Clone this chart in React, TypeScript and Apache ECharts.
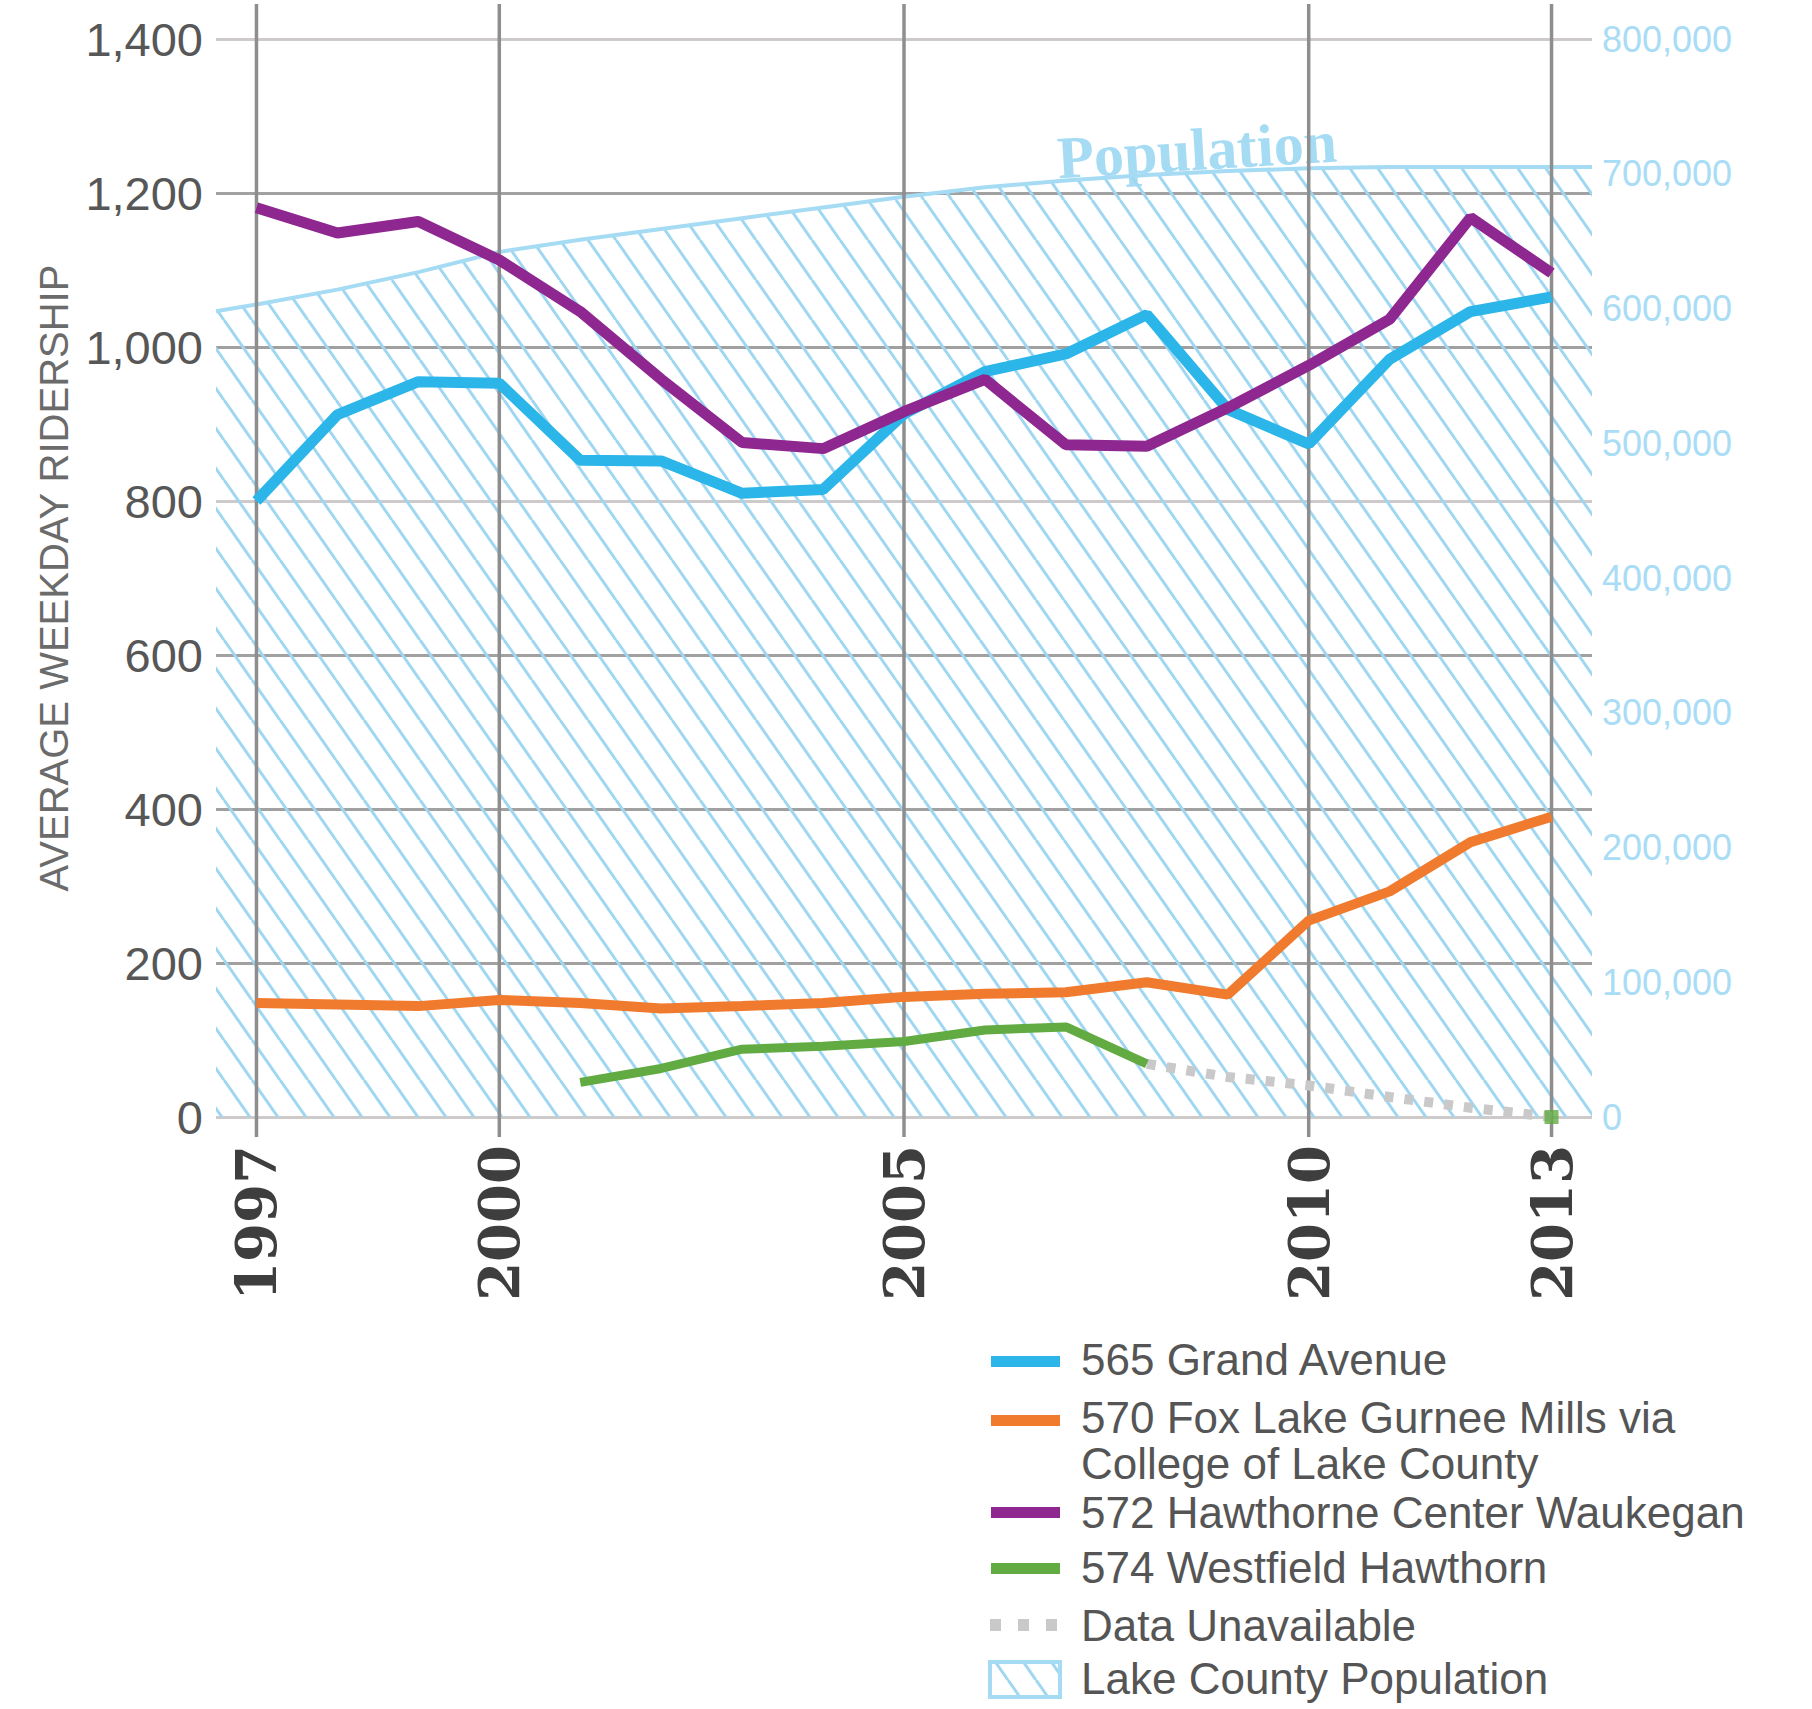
import React, { useEffect, useRef } from "react";
import * as echarts from "echarts";

// ---------- data ----------
const years = [1997, 1998, 1999, 2000, 2001, 2002, 2003, 2004, 2005, 2006, 2007, 2008, 2009, 2010, 2011, 2012, 2013];
const grandAvenue565 = [800, 912, 955, 953, 853, 852, 810, 815, 913, 968, 991, 1042, 919, 874, 984, 1046, 1065];
const foxLake570 = [148, 146, 144, 152, 148, 141, 144, 148, 156, 160, 162, 175, 159, 255, 293, 357, 390];
const hawthorne572 = [1181, 1148, 1163, 1113, 1046, 958, 876, 868, 916, 958, 873, 871, 921, 976, 1036, 1168, 1096];
const westfield574 = [null, null, null, null, 45, 63, 88, 92, 98, 113, 117, 69, null, null, null, null, null];
const dataUnavailable = [null, null, null, null, null, null, null, null, null, null, null, 69, 52, 41, 26, 12, 0];
const westfield574EndYear = 2013;
const westfield574EndValue = 0;

const populationYears = [1996.5, 1997, 1998, 1999, 2000, 2001, 2002, 2003, 2004, 2005, 2006, 2007, 2008, 2009, 2010, 2011, 2012, 2013, 2013.5];
const populationValues = [598000, 603000, 614000, 627000, 642000, 651000, 659000, 667000, 675000, 683000, 690000, 695000, 699000, 702000, 704000, 705000, 705000, 705000, 705000];

const xLabelYears = [1997, 2000, 2005, 2010, 2013];
const legendLabels = [
  "565 Grand Avenue",
  "570 Fox Lake Gurnee Mills via\nCollege of Lake County",
  "572 Hawthorne Center Waukegan",
  "574 Westfield Hawthorn",
  "Data Unavailable",
  "Lake County Population",
];

// ---------- styles ----------
const BLUE = "#2cb5e9";
const ORANGE = "#f07b2f";
const PURPLE = "#8e278f";
const GREEN = "#62ab43";
const GRAY_DOT = "#c9c9c9";
const POP_LINE = "#a6dbf4";
const HATCH = "#9fd7f2";
const SANS = "Liberation Sans, Arial, sans-serif";

function makeHatch(w: number, h: number) {
  const c = document.createElement("canvas");
  c.width = w;
  c.height = h;
  const ctx = c.getContext("2d")!;
  ctx.strokeStyle = HATCH;
  ctx.lineWidth = 3;
  for (let k = -1; k <= 1; k++) {
    ctx.beginPath();
    ctx.moveTo(k * w, 0);
    ctx.lineTo(k * w + w, h);
    ctx.stroke();
  }
  return { image: c.toDataURL(), repeat: "repeat", imageWidth: w, imageHeight: h };
}

const pair = (vals: (number | null)[]) => years.map((y, i) => [y, vals[i] == null ? null : vals[i]]);

export default function App() {
  const ref = useRef<HTMLDivElement>(null);

  useEffect(() => {
    document.body.style.margin = "0";
    if (!ref.current) return;
    const chart = echarts.init(ref.current, null, { renderer: "svg" });
    const hatch = makeHatch(28, 40);
    const hatchLegend = makeHatch(28, 40);

    const light = "#cecaca";
    const dark = "#a2a1a1";

    const legendGraphics: any[] = [];
    const swX = 991;
    const swW = 69;
    const txX = 1081;
    const txtStyle = { fontSize: 44, lineHeight: 46, fontFamily: SANS, fill: "#555555", verticalAlign: "middle", align: "left" };
    const rows = [
      { kind: "line", color: BLUE, y: 1361, ty: 1359 },
      { kind: "line", color: ORANGE, y: 1420, ty: 1440 },
      { kind: "line", color: PURPLE, y: 1512, ty: 1512 },
      { kind: "line", color: GREEN, y: 1568, ty: 1567 },
      { kind: "dots", color: GRAY_DOT, y: 1625, ty: 1625 },
      { kind: "hatch", color: POP_LINE, y: 1679, ty: 1678 },
    ];
    rows.forEach((r, i) => {
      if (r.kind === "line") {
        legendGraphics.push({ type: "rect", shape: { x: swX, y: r.y - 5, width: swW, height: 11 }, style: { fill: r.color } });
      } else if (r.kind === "dots") {
        [990, 1018, 1046].forEach((x) =>
          legendGraphics.push({ type: "rect", shape: { x, y: r.y - 6, width: 11, height: 12 }, style: { fill: r.color } })
        );
      } else {
        legendGraphics.push({
          type: "rect",
          shape: { x: 990, y: r.y - 17, width: 70, height: 35 },
          style: { fill: hatchLegend, stroke: r.color, lineWidth: 4 },
        });
      }
      legendGraphics.push({ type: "text", x: txX, y: r.ty, style: { ...txtStyle, text: legendLabels[i] } });
    });

    const option: any = {
      animation: false,
      backgroundColor: "#ffffff",
      textStyle: { fontFamily: SANS },
      grid: { left: 216, right: 220, top: 39, bottom: 592, containLabel: false },
      xAxis: {
        type: "value",
        min: 1996.5,
        max: 2013.5,
        axisLine: { show: false },
        axisTick: { show: false },
        splitLine: { show: false },
        axisLabel: {
          customValues: xLabelYears,
          rotate: 90,
          margin: 28,
          formatter: (v: number) => String(v),
          fontFamily: "DejaVu Serif",
          fontWeight: "bold",
          fontSize: 56,
          color: "#3e3e3e",
        },
      },
      yAxis: [
        {
          type: "value",
          min: 0,
          max: 1400,
          interval: 200,
          position: "left",
          name: "AVERAGE WEEKDAY RIDERSHIP",
          nameLocation: "middle",
          nameRotate: 90,
          nameGap: 142,
          nameTextStyle: { fontSize: 40, color: "#6b6b6b", fontFamily: SANS },
          axisLine: { show: false },
          axisTick: { show: false },
          axisLabel: { fontSize: 47, color: "#575757", margin: 13, fontFamily: SANS },
          splitLine: {
            show: true,
            lineStyle: { color: [light, dark, dark, dark, light, dark, dark, light], width: 3 },
          },
        },
        {
          type: "value",
          min: 0,
          max: 800000,
          interval: 100000,
          position: "right",
          axisLine: { show: false },
          axisTick: { show: false },
          splitLine: { show: false },
          axisLabel: { fontSize: 36, color: "#a9dcf5", margin: 10, fontFamily: SANS },
        },
      ],
      series: [
        {
          name: "Lake County Population",
          type: "line",
          yAxisIndex: 1,
          data: populationYears.map((y, i) => [y, populationValues[i]]),
          symbol: "none",
          lineStyle: { color: POP_LINE, width: 4 },
          areaStyle: { color: hatch, opacity: 1 },
          z: 1,
          silent: true,
        },
        {
          name: "year lines",
          type: "custom",
          data: xLabelYears.map((y) => [y, 0]),
          encode: { x: 0, y: 1 },
          clip: false,
          z: 2,
          silent: true,
          renderItem: (params: any, api: any) => {
            const top = api.coord([api.value(0), 1400]);
            const bottom = api.coord([api.value(0), 0]);
            return {
              type: "line",
              shape: { x1: top[0], y1: top[1] - 35, x2: bottom[0], y2: bottom[1] + 20 },
              style: { stroke: "#8e8e8e", lineWidth: 3.5 },
            };
          },
        },
        {
          name: "Data Unavailable",
          type: "line",
          data: pair(dataUnavailable),
          symbol: "none",
          lineStyle: { color: GRAY_DOT, width: 10, type: [9, 11], cap: "butt" },
          z: 3,
        },
        {
          name: "570 Fox Lake Gurnee Mills via College of Lake County",
          type: "line",
          data: pair(foxLake570),
          symbol: "none",
          lineStyle: { color: ORANGE, width: 10 },
          z: 4,
        },
        {
          name: "574 Westfield Hawthorn",
          type: "line",
          data: pair(westfield574),
          symbol: "none",
          lineStyle: { color: GREEN, width: 9 },
          z: 4,
        },
        {
          name: "574 Westfield Hawthorn end",
          type: "scatter",
          data: [[westfield574EndYear, westfield574EndValue]],
          symbol: "rect",
          symbolSize: 14,
          itemStyle: { color: GREEN },
          z: 5,
        },
        {
          name: "565 Grand Avenue",
          type: "line",
          data: pair(grandAvenue565),
          symbol: "none",
          lineStyle: { color: BLUE, width: 11 },
          z: 5,
        },
        {
          name: "572 Hawthorne Center Waukegan",
          type: "line",
          data: pair(hawthorne572),
          symbol: "none",
          lineStyle: { color: PURPLE, width: 11 },
          z: 6,
        },
      ],
      graphic: [
        {
          type: "text",
          x: 1197,
          y: 150,
          rotation: 0.06,
          style: {
            text: "Population",
            fontFamily: "Liberation Serif",
            fontWeight: "bold",
            fontSize: 60,
            fill: POP_LINE,
            align: "center",
            verticalAlign: "middle",
          },
        },
        ...legendGraphics,
      ],
    };

    chart.setOption(option);
    return () => chart.dispose();
  }, []);

  return <div ref={ref} style={{ width: 1812, height: 1709 }} />;
}
